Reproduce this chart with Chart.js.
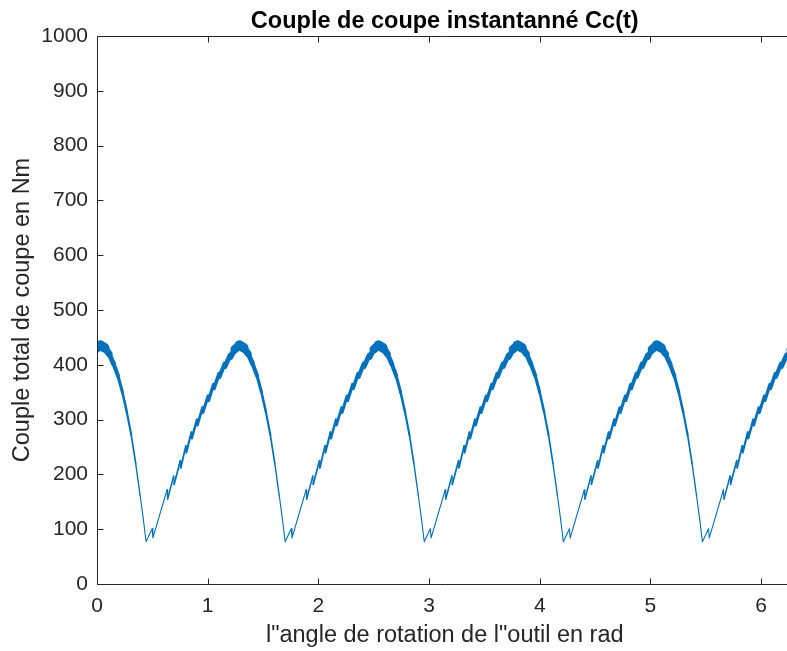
<!DOCTYPE html>
<html>
<head>
<meta charset="utf-8">
<script src="https://cdn.jsdelivr.net/npm/chart.js@4.4.1/dist/chart.umd.min.js"></script>
<style>
  html, body { margin: 0; padding: 0; background: #fff; overflow: hidden; }
  canvas { display: block; }
</style>
</head>
<body>
<canvas id="c" width="800" height="651"></canvas>
<script>
// ---- Data ----
const chartTitle = 'Couple de coupe instantanné Cc(t)';
const xTitle = 'l"angle de rotation de l"outil en rad';
const yTitle = 'Couple total de coupe en Nm';
const xTicks = [0, 1, 2, 3, 4, 5, 6];
const yTicks = [0, 100, 200, 300, 400, 500, 600, 700, 800, 900, 1000];
const xMax = 6.2832;

// angle of rotation (rad)
const angle = [
  0, 0.0294, 0.0694, 0.1094, 0.1494, 0.1894, 0.2294, 0.2694, 0.3094, 0.3494, 0.3894, 0.4194,
  0.4430, 0.4980, 0.5050, 0.6330, 0.6380, 0.6930, 0.6970, 0.7530, 0.7570, 0.8030, 0.8070, 0.8530, 0.8570,
  0.9030, 0.9070, 0.9530, 0.9570, 1.0030, 1.0070, 1.0530, 1.0570, 1.1030, 1.1070, 1.1530, 1.1570,
  1.2030, 1.2070, 1.2430, 1.2860,
  1.3260, 1.3660, 1.4060, 1.4460, 1.4860, 1.5260, 1.5660, 1.6060, 1.6460, 1.6760,
  1.6996, 1.7546, 1.7616, 1.8896, 1.8946, 1.9496, 1.9536, 2.0096, 2.0136, 2.0596, 2.0636, 2.1096, 2.1136,
  2.1596, 2.1636, 2.2096, 2.2136, 2.2596, 2.2636, 2.3096, 2.3136, 2.3596, 2.3636, 2.4096, 2.4136,
  2.4596, 2.4636, 2.4996, 2.5426,
  2.5826, 2.6226, 2.6626, 2.7026, 2.7426, 2.7826, 2.8226, 2.8626, 2.9026, 2.9326,
  2.9562, 3.0112, 3.0182, 3.1462, 3.1512, 3.2062, 3.2102, 3.2662, 3.2702, 3.3162, 3.3202, 3.3662, 3.3702,
  3.4162, 3.4202, 3.4662, 3.4702, 3.5162, 3.5202, 3.5662, 3.5702, 3.6162, 3.6202, 3.6662, 3.6702,
  3.7162, 3.7202, 3.7562, 3.7992,
  3.8392, 3.8792, 3.9192, 3.9592, 3.9992, 4.0392, 4.0792, 4.1192, 4.1592, 4.1892,
  4.2128, 4.2678, 4.2748, 4.4028, 4.4078, 4.4628, 4.4668, 4.5228, 4.5268, 4.5728, 4.5768, 4.6228, 4.6268,
  4.6728, 4.6768, 4.7228, 4.7268, 4.7728, 4.7768, 4.8228, 4.8268, 4.8728, 4.8768, 4.9228, 4.9268,
  4.9728, 4.9768, 5.0128, 5.0558,
  5.0958, 5.1358, 5.1758, 5.2158, 5.2558, 5.2958, 5.3358, 5.3758, 5.4158, 5.4458,
  5.4694, 5.5244, 5.5314, 5.6594, 5.6644, 5.7194, 5.7234, 5.7794, 5.7834, 5.8294, 5.8334, 5.8794, 5.8834,
  5.9294, 5.9334, 5.9794, 5.9834, 6.0294, 6.0334, 6.0794, 6.0834, 6.1294, 6.1334, 6.1794, 6.1834,
  6.2294, 6.2334, 6.2694, 6.2832
];

// total cutting torque (Nm)
const couple = [
  430, 436, 431, 420, 402, 380, 350, 314, 272, 220, 162, 117,
  77, 101, 84, 172, 155, 197, 182, 225, 212, 252, 240, 277, 266,
  300, 290, 322, 313, 343, 335, 364, 357, 384, 378, 402, 397,
  418, 414, 428, 436,
  431, 420, 402, 380, 350, 314, 272, 220, 162, 117,
  77, 101, 84, 172, 155, 197, 182, 225, 212, 252, 240, 277, 266,
  300, 290, 322, 313, 343, 335, 364, 357, 384, 378, 402, 397,
  418, 414, 428, 436,
  431, 420, 402, 380, 350, 314, 272, 220, 162, 117,
  77, 101, 84, 172, 155, 197, 182, 225, 212, 252, 240, 277, 266,
  300, 290, 322, 313, 343, 335, 364, 357, 384, 378, 402, 397,
  418, 414, 428, 436,
  431, 420, 402, 380, 350, 314, 272, 220, 162, 117,
  77, 101, 84, 172, 155, 197, 182, 225, 212, 252, 240, 277, 266,
  300, 290, 322, 313, 343, 335, 364, 357, 384, 378, 402, 397,
  418, 414, 428, 436,
  431, 420, 402, 380, 350, 314, 272, 220, 162, 117,
  77, 101, 84, 172, 155, 197, 182, 225, 212, 252, 240, 277, 266,
  300, 290, 322, 313, 343, 335, 364, 357, 384, 378, 402, 397,
  418, 414, 428, 430
];

// ---- Styling ----
const FONT = "'Liberation Sans', Arial, Helvetica, sans-serif";
const AXIS_COLOR = '#262626';
const LINE_COLOR = '#0072BD';

// inward ticks + box, MATLAB-like
const boxPlugin = {
  id: 'matlabBox',
  afterDatasetsDraw(chart) {
    const {ctx, chartArea: a, scales} = chart;
    ctx.save();
    ctx.strokeStyle = AXIS_COLOR;
    ctx.lineWidth = 1;
    const L = Math.round(a.left) + 0.5, R = Math.round(a.right) + 0.5;
    const T = Math.round(a.top) + 0.5, B = Math.round(a.bottom) + 0.5;
    ctx.beginPath();
    ctx.rect(L, T, R - L, B - T);
    const tl = 6;
    xTicks.forEach(v => {
      const px = Math.round(scales.x.getPixelForValue(v)) + 0.5;
      ctx.moveTo(px, B); ctx.lineTo(px, B - tl);
      ctx.moveTo(px, T); ctx.lineTo(px, T + tl);
    });
    yTicks.forEach(v => {
      const py = Math.round(scales.y.getPixelForValue(v)) + 0.5;
      ctx.moveTo(L, py); ctx.lineTo(L + tl, py);
      ctx.moveTo(R, py); ctx.lineTo(R - tl, py);
    });
    ctx.stroke();
    ctx.restore();
  }
};

new Chart(document.getElementById('c'), {
  type: 'line',
  data: {
    datasets: [{
      data: angle.map((a, i) => ({x: a, y: couple[i]})),
      borderColor: LINE_COLOR,
      borderWidth: 1.3,
      borderCapStyle: 'round',
      borderJoinStyle: 'round',
      pointRadius: 0,
      tension: 0,
      fill: false,
      segment: {
        borderWidth: ctx => {
          const dx = ctx.p1.x - ctx.p0.x, dy = ctx.p1.y - ctx.p0.y;
          const len = Math.hypot(dx, dy) || 1;
          const v = (couple[ctx.p0DataIndex] + couple[ctx.p1DataIndex]) / 2;
          const band = Math.max(0, (v - 130) / 305) * 10;
          return 1.1 + band * Math.abs(dx) / len;
        }
      }
    }]
  },
  options: {
    responsive: false,
    devicePixelRatio: 1,
    animation: false,
    parsing: false,
    layout: { padding: { left: 0, right: 7.5, top: 0, bottom: 0 } },
    plugins: {
      legend: { display: false },
      tooltip: { enabled: false },
      title: { display: false }
    },
    scales: {
      x: {
        type: 'linear',
        min: 0,
        max: xMax,
        afterBuildTicks: s => { s.ticks = xTicks.map(v => ({value: v})); },
        afterFit: s => { s.height = 67; },
        grid: { display: false, drawTicks: false },
        border: { display: false },
        ticks: {
          color: AXIS_COLOR,
          font: { family: FONT, size: 21 },
          padding: 10,
          maxRotation: 0,
          autoSkip: false,
          callback: v => String(v)
        },
        title: {
          display: true,
          text: xTitle,
          color: AXIS_COLOR,
          font: { family: FONT, size: 23.5 },
          padding: { top: 0, bottom: 1 }
        }
      },
      // top axis used only to carry the chart title centred over the plot area
      xTop: {
        type: 'linear',
        position: 'top',
        min: 0,
        max: xMax,
        afterFit: s => { s.height = 36; },
        grid: { display: false, drawTicks: false },
        border: { display: false },
        ticks: { display: false },
        title: {
          display: true,
          text: chartTitle,
          color: '#000',
          font: { family: FONT, size: 23.5, weight: 'bold' },
          padding: { top: 7, bottom: 0 }
        }
      },
      y: {
        type: 'linear',
        min: 0,
        max: 1000,
        afterBuildTicks: s => { s.ticks = yTicks.map(v => ({value: v})); },
        afterFit: s => { s.width = 97; },
        grid: { display: false, drawTicks: false },
        border: { display: false },
        ticks: {
          color: AXIS_COLOR,
          font: { family: FONT, size: 21 },
          padding: 9,
          autoSkip: false,
          callback: v => String(v)
        },
        title: {
          display: true,
          text: yTitle,
          color: AXIS_COLOR,
          font: { family: FONT, size: 23.5 },
          padding: { top: 8, bottom: 0 }
        }
      }
    }
  },
  plugins: [boxPlugin]
});
</script>
</body>
</html>
